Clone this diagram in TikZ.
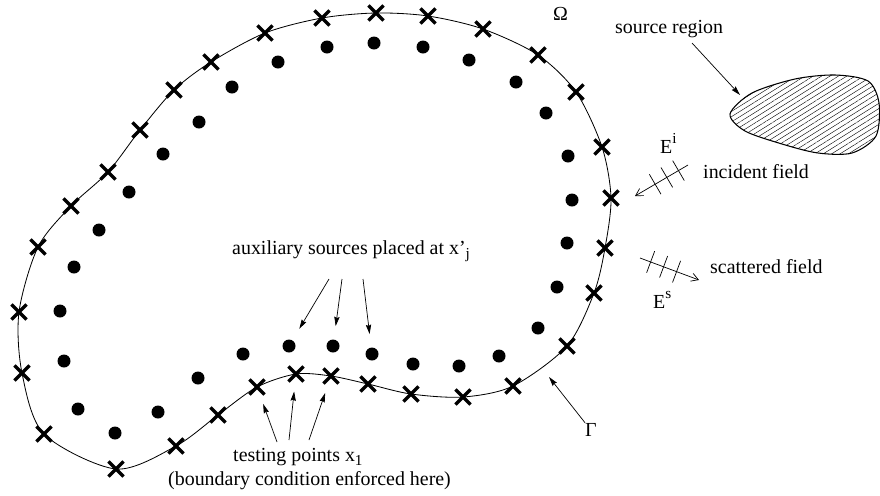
\documentclass[tikz,border=0pt]{standalone}
\usepackage{fontspec}
\setmainfont{Liberation Serif}
\usepackage{tikz}
\usetikzlibrary{arrows.meta,shapes.misc,patterns.meta,decorations.markings}

\newcommand{\supidx}[1]{\raisebox{8pt}{\fontsize{13}{13}\selectfont #1}}
\newcommand{\subidx}[1]{\raisebox{-4pt}{\fontsize{13}{13}\selectfont #1}}

\tikzset{
	testpt/.style={draw, cross out, line width=2.9pt, minimum size=0.35cm, inner sep=0pt},
	auxpt/.style={circle, fill, minimum size=0.39cm, inner sep=0pt},
	lbl/.style={inner sep=0pt, font=\fontsize{17}{20}\selectfont},
	pointer/.style={-{Stealth[length=8pt,width=4.5pt,inset=1pt]}, line width=0.6pt},
	tick/.style={-, line width=0.6pt},
	wave/.style={-{Straight Barb[length=6pt,width=7pt]}, line width=0.6pt, postaction=decorate,
		decoration={markings,
			mark=at position 0.18 with {\draw[tick] (0,-11.5) -- (0,11.5);},
			mark=at position 0.4 with {\draw[tick] (0,-11.5) -- (0,11.5);},
			mark=at position 0.62 with {\draw[tick] (0,-11.5) -- (0,11.5);}}}
}

\begin{document}
\begin{tikzpicture}[x=0.03cm, y=-0.03cm]
	\useasboundingbox (0,0) rectangle (880,495);

	\foreach \px/\py [count=\i] in {116/469, 176/446, 218/415, 257/387, 296/374, 331/376, 368/384,
		411/394, 463/397, 513/386, 567/346, 594/293, 605/248, 611/198, 602/147, 576/92, 538/55,
		483/29, 428/16, 376/13, 322/18, 265/33, 211/62, 174/90, 140/130, 108/172, 71/206,
		38/247, 19/312, 22/373, 44/434}
		\coordinate (c\i) at (\px,\py);

	\draw[line width=0.7pt] plot[smooth cycle] coordinates {(c1) (c2) (c3) (c4) (c5) (c6) (c7) (c8)
		(c9) (c10) (c11) (c12) (c13) (c14) (c15) (c16) (c17) (c18) (c19) (c20) (c21) (c22) (c23)
		(c24) (c25) (c26) (c27) (c28) (c29) (c30) (c31)};

	\foreach \i in {1,...,31}
		\node[testpt] (x\i) at (c\i) {};

	\foreach \px/\py [count=\i] in {99/230, 129/192, 163/154, 199/122, 232/87, 278/62, 327/47,
		374/43, 423/47, 469/60, 516/82, 546/113, 568/156, 572/200, 567/243, 557/287, 538/328,
		499/356, 459/366, 413/364, 372/354, 333/346, 289/346, 243/354, 198/378, 158/412,
		115/433, 78/409, 64/361, 60/311, 74/267}
		\node[auxpt] (d\i) at (\px,\py) {};

	\draw[line width=0.9pt, pattern={Lines[angle=32,distance=3.8pt,line width=0.35pt]}]
		plot[smooth cycle] coordinates {(730,114) (752,93) (795,79) (835,75) (868,81) (879,103)
		(876,136) (852,153) (818,153) (782,144) (745,131)};

	\node[lbl, anchor=base west] (omega) at (553,20) {Ω};
	\node[lbl, anchor=base west] (src) at (615,33) {source region};
	\node[lbl, anchor=base west] (einc) at (660,153) {E\supidx{i}};
	\node[lbl, anchor=base west] (inc) at (703,178) {incident field};
	\node[lbl, anchor=base west] (sca) at (710,273) {scattered field};
	\node[lbl, anchor=base west] (esca) at (653,308) {E\supidx{s}};
	\node[lbl, anchor=base west] (aux) at (232,254) {auxiliary sources placed at x'\subidx{j}};
	\node[lbl, anchor=base west] (gam) at (585,436) {Γ};
	\node[lbl, anchor=base west] (test) at (233,461) {testing points x\subidx{1}};
	\node[lbl, anchor=base west] (bc) at (168,485) {(boundary condition enforced here)};

	\coordinate (srcfrom) at (692,43);
	\coordinate (srcto) at (740,95);
	\coordinate (gamto) at (549,377);
	\coordinate (incfrom) at (688,165);
	\coordinate (incto) at (635,196);
	\coordinate (scafrom) at (640,258);
	\coordinate (scato) at (699,280);
	\coordinate (auxfrom1) at (329,279);
	\coordinate (auxfrom2) at (342,279);
	\coordinate (auxfrom3) at (363,279);
	\coordinate (testfrom1) at (277,442);
	\coordinate (testfrom2) at (289,440);
	\coordinate (testfrom3) at (309,440);

	\draw[pointer] (srcfrom) -- (srcto);
	\draw[pointer] (gam.north west) -- (gamto);
	\draw[pointer, shorten >=0.4cm] (auxfrom1) -- (d23);
	\draw[pointer, shorten >=0.4cm] (auxfrom2) -- (d22);
	\draw[pointer, shorten >=0.4cm] (auxfrom3) -- (d21);
	\draw[pointer, shorten >=0.3cm] (testfrom1) -- (x4);
	\draw[pointer, shorten >=0.3cm] (testfrom2) -- (x5);
	\draw[pointer, shorten >=0.3cm] (testfrom3) -- (x6);
	\draw[wave] (incfrom) -- (incto);
	\draw[wave] (scafrom) -- (scato);
\end{tikzpicture}
\end{document}
